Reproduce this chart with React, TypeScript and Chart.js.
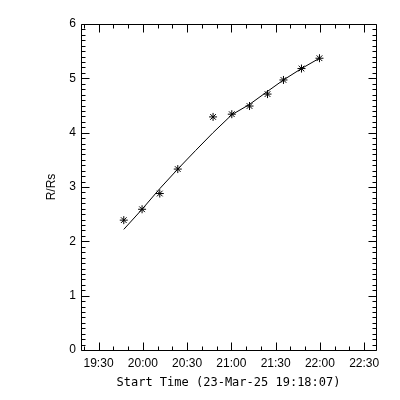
import React, { useEffect, useRef } from "react";
import { Chart, registerables } from "chart.js";

Chart.register(...registerables);

// Observed heights (R/Rs) at observation start times
const obsTimes = ["19:47:06", "19:59:30", "20:11:30", "20:23:42", "20:47:36", "21:00:18", "21:12:18", "21:24:30", "21:35:18", "21:47:30", "21:59:42"];
const obsHeights = [2.39, 2.59, 2.88, 3.33, 4.29, 4.34, 4.49, 4.71, 4.97, 5.18, 5.37];

// Fitted curve
const fitTimes = ["19:47:06", "19:59:30", "20:11:30", "20:23:42", "20:35:42", "20:47:36", "21:00:18", "21:12:18", "21:24:30", "21:35:18", "21:47:30", "21:59:42"];
const fitHeights = [2.22, 2.59, 2.97, 3.33, 3.67, 4.0, 4.33, 4.52, 4.76, 4.97, 5.18, 5.37];

const axisStart = "19:18:07";
const axisEnd = "22:38:00";
const xTitle = "Start Time (23-Mar-25 19:18:07)";
const yTitle = "R/Rs";
const yMin = 0;
const yMax = 6;

const toMin = (s: string) => {
  const [h, m, sec] = s.split(":").map(Number);
  return h * 60 + m + (sec || 0) / 60;
};
const fmt = (v: number) => {
  const t = Math.round(v);
  const h = Math.floor(t / 60);
  const m = t % 60;
  return `${String(h).padStart(2, "0")}:${String(m).padStart(2, "0")}`;
};
const isMajorX = (v: number) => Math.round(v) % 30 === 0;
const isMajorY = (v: number) => Math.abs(v - Math.round(v)) < 1e-6;

const frameTicks = {
  id: "frameTicks",
  afterDraw(chart: any) {
    const ctx = chart.ctx;
    const { left, right, top, bottom } = chart.chartArea;
    const L = Math.round(left) + 0.5;
    const R = Math.round(right) + 0.5;
    const T = Math.round(top) + 0.5;
    const B = Math.round(bottom) + 0.5;
    ctx.save();
    ctx.strokeStyle = "#000";
    ctx.lineWidth = 1;
    ctx.beginPath();
    ctx.rect(L, T, R - L, B - T);
    const xs = chart.scales.x;
    xs.ticks.forEach((t: any) => {
      const p = Math.round(xs.getPixelForValue(t.value)) + 0.5;
      const len = isMajorX(t.value) ? 8 : 4;
      ctx.moveTo(p, B);
      ctx.lineTo(p, B - len);
      ctx.moveTo(p, T);
      ctx.lineTo(p, T + len);
    });
    const ys = chart.scales.y;
    ys.ticks.forEach((t: any) => {
      const p = Math.round(ys.getPixelForValue(t.value)) + 0.5;
      const len = isMajorY(t.value) ? 8 : 4;
      ctx.moveTo(L, p);
      ctx.lineTo(L + len, p);
      ctx.moveTo(R, p);
      ctx.lineTo(R - len, p);
    });
    ctx.stroke();
    ctx.restore();
  },
};

export default function App() {
  const ref = useRef<HTMLCanvasElement>(null);
  useEffect(() => {
    if (!ref.current) return;
    Chart.defaults.color = "#000";
    const obs = obsTimes.map((t, i) => ({ x: toMin(t), y: obsHeights[i] }));
    const fit = fitTimes.map((t, i) => ({ x: toMin(t), y: fitHeights[i] }));
    const chart = new Chart(ref.current, {
      type: "scatter",
      data: {
        datasets: [
          {
            data: fit,
            showLine: true,
            borderColor: "#000",
            borderWidth: 1,
            pointRadius: 0,
            tension: 0,
          },
          {
            data: obs,
            showLine: false,
            pointStyle: "star",
            pointRadius: 4,
            borderColor: "#000",
            borderWidth: 1,
            backgroundColor: "#000",
          },
        ],
      },
      options: {
        responsive: false,
        animation: false,
        layout: { padding: { left: 0, top: 24, right: 24, bottom: 0 } },
        plugins: { legend: { display: false }, tooltip: { enabled: false } },
        scales: {
          x: {
            type: "linear",
            min: toMin(axisStart),
            max: toMin(axisEnd),
            grid: { display: false, drawTicks: false, tickLength: 0 },
            border: { display: false },
            ticks: {
              stepSize: 10,
              includeBounds: false,
              autoSkip: false,
              maxRotation: 0,
              minRotation: 0,
              padding: 6,
              font: { family: "Liberation Sans", size: 12 },
              callback: (v: any) => (isMajorX(Number(v)) ? fmt(Number(v)) : ""),
            },
            title: {
              display: true,
              text: xTitle,
              font: { family: "DejaVu Sans Mono", size: 12 },
              padding: { top: 0, bottom: 10 },
            },
            afterFit: (s: any) => {
              s.height = 50;
            },
          },
          y: {
            type: "linear",
            min: yMin,
            max: yMax,
            grid: { display: false, drawTicks: false, tickLength: 0 },
            border: { display: false },
            ticks: {
              stepSize: 0.1,
              autoSkip: false,
              padding: 5,
              font: { family: "Liberation Sans", size: 12 },
              callback: (v: any) => (isMajorY(Number(v)) ? String(Math.round(Number(v))) : ""),
            },
            title: {
              display: true,
              text: yTitle,
              font: { family: "Liberation Sans", size: 12 },
              padding: { top: 44, bottom: 0 },
            },
            afterFit: (s: any) => {
              s.width = 81;
            },
          },
        },
      },
      plugins: [frameTicks],
    });
    return () => chart.destroy();
  }, []);
  return (
    <div style={{ position: "fixed", left: 0, top: 0, width: 400, height: 400, background: "#fff" }}>
      <canvas ref={ref} width={400} height={400} />
    </div>
  );
}
